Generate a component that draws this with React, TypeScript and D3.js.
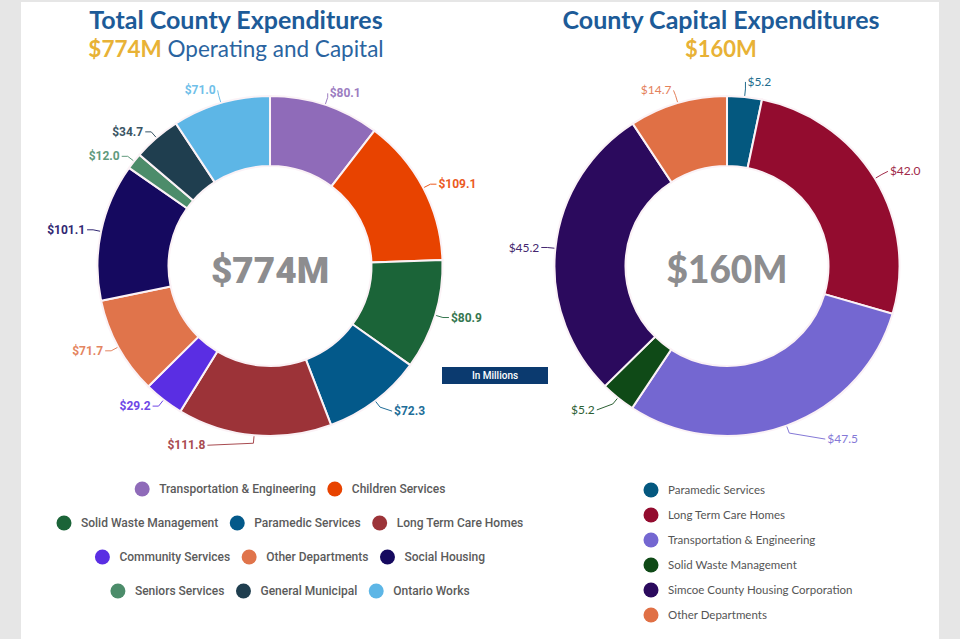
import React from "react";
import * as d3 from "d3";

// ---------- Data ----------
const totalCategories = [
  "Transportation & Engineering",
  "Children Services",
  "Solid Waste Management",
  "Paramedic Services",
  "Long Term Care Homes",
  "Community Services",
  "Other Departments",
  "Social Housing",
  "Seniors Services",
  "General Municipal",
  "Ontario Works",
];
const totalValues = [80.1, 109.1, 80.9, 72.3, 111.8, 29.2, 71.7, 101.1, 12.0, 34.7, 71.0];
const totalColors = [
  "#8f6bb9", "#e84300", "#1b6438", "#03598a", "#9c3338", "#5a2ee3",
  "#e0744b", "#15095f", "#4c8c6a", "#1f3e4f", "#5db6e6",
];
const totalLegendRows = [[0, 1], [2, 3, 4], [5, 6, 7], [8, 9, 10]];

const capitalCategories = [
  "Paramedic Services",
  "Long Term Care Homes",
  "Transportation & Engineering",
  "Solid Waste Management",
  "Simcoe County Housing Corporation",
  "Other Departments",
];
const capitalValues = [5.2, 42.0, 47.5, 5.2, 45.2, 14.7];
const capitalColors = ["#04587f", "#930c2f", "#7467d1", "#0f4a17", "#2b0a5d", "#e07045"];

// label nudges (layout only)
const totalNudges: [number, number][] = [
  [-6, -4], [0, 0], [0, 0], [6, 4], [-40, 2], [0, 0], [0, 0], [0, 0], [0, 0], [0, 0], [5, -5],
];
const capitalNudges: [number, number][] = [
  [-6, -7], [0, -3], [30, 6], [-10, 6], [0, 0], [4, -5],
];

// ---------- Helpers ----------
let ctx: CanvasRenderingContext2D | null = null;
function measure(text: string, font: string) {
  if (!ctx) ctx = document.createElement("canvas").getContext("2d");
  if (!ctx) return text.length * 6;
  ctx.font = font;
  return ctx.measureText(text).width;
}

type DonutProps = {
  cx: number;
  cy: number;
  values: number[];
  colors: string[];
  nudges: [number, number][];
  labelFont: string;
  labelWeight: number;
  centerFont: string;
};

function Donut({ cx, cy, values, colors, nudges, labelFont, labelWeight, centerFont }: DonutProps) {
  const inner = 100;
  const outer = 170;
  const pie = d3.pie<number>().sort(null).value((d) => d);
  const arcs = pie(values);
  const arc = d3.arc<d3.PieArcDatum<number>>().innerRadius(inner).outerRadius(outer);
  const total = d3.sum(values);
  return (
    <g transform={`translate(${cx},${cy})`}>
      <g transform="scale(1.015,1)">
        {arcs.map((a, i) => (
          <path key={i} d={arc(a) || ""} fill={colors[i]} stroke="#fbf2f6" strokeWidth={2} />
        ))}
      </g>
      {arcs.map((a, i) => {
        const mid = (a.startAngle + a.endAngle) / 2;
        const right = Math.sin(mid) >= 0;
        const pt = (r: number) => [1.015 * r * Math.sin(mid), -r * Math.cos(mid)];
        const p0 = pt(outer + 1);
        const p1 = pt(outer + 8);
        const [dx, dy] = nudges[i];
        const p2 = [p1[0] + dx + (right ? 6 : -6), p1[1] + dy];
        const lc = d3.interpolateRgb(colors[i], "#ffffff")(0.12);
        const line = d3.line()([p0 as [number, number], p1 as [number, number], p2 as [number, number]]);
        return (
          <g key={"l" + i}>
            <path d={line || ""} fill="none" stroke={lc} strokeWidth={1} />
            <text
              x={p2[0] + (right ? 2 : -2)}
              y={p2[1] + 4}
              textAnchor={right ? "start" : "end"}
              fontFamily={labelFont}
              fontWeight={labelWeight}
              fontSize={12}
              fill={lc}
            >
              {`$${values[i].toFixed(1)}`}
            </text>
          </g>
        );
      })}
      <text
        x={0}
        y={17}
        textAnchor="middle"
        fontFamily={centerFont}
        fontWeight={900}
        fontSize={37}
        fill="#8d8d8f"
      >
        {`$${Math.round(total)}M`}
      </text>
    </g>
  );
}

export default function App() {
  const legendFont = "500 12px Roboto";
  const legendRowY = [489, 523, 557, 591];
  const legendCenter = 290;
  const textOff = 24.5;
  const gap = 11.5;
  return (
    <svg
      width={960}
      height={639}
      style={{ position: "absolute", left: 0, top: 0, display: "block" }}
    >
      <rect x={0} y={0} width={960} height={639} fill="#e6e6e6" />
      <rect x={21} y={2} width={918} height={637} fill="#ffffff" />

      {/* Titles */}
      <text x={236} y={29} textAnchor="middle" fontFamily="Lato" fontWeight={700} fontSize={25} fill="#1d5b98">
        Total County Expenditures
      </text>
      <text x={236} y={57} textAnchor="middle" fontFamily="Lato" fontSize={22.5} fill="#2a64a0">
        <tspan fontWeight={700} fill="#e8b236">$774M</tspan>
        <tspan> Operating and Capital</tspan>
      </text>
      <text x={721} y={29} textAnchor="middle" fontFamily="Lato" fontWeight={700} fontSize={25} fill="#1d5b98">
        County Capital Expenditures
      </text>
      <text x={721} y={57} textAnchor="middle" fontFamily="Lato" fontWeight={700} fontSize={22} fill="#e8b236">
        $160M
      </text>

      <Donut
        cx={270}
        cy={266}
        values={totalValues}
        colors={totalColors}
        nudges={totalNudges}
        labelFont="Roboto"
        labelWeight={700}
        centerFont="Roboto"
      />
      <Donut
        cx={727}
        cy={266}
        values={capitalValues}
        colors={capitalColors}
        nudges={capitalNudges}
        labelFont="Lato"
        labelWeight={400}
        centerFont="Lato"
      />

      {/* In Millions badge */}
      <rect x={442} y={367} width={106} height={17} fill="#0b3a6f" />
      <text x={495} y={379} textAnchor="middle" fontFamily="Roboto" fontWeight={500} fontSize={10} fill="#ffffff">
        In Millions
      </text>

      {/* Left legend */}
      {totalLegendRows.map((row, ri) => {
        const widths = row.map((i) => textOff + measure(totalCategories[i], legendFont));
        const totalW = d3.sum(widths) + gap * (row.length - 1);
        let x = legendCenter - totalW / 2;
        return (
          <g key={"r" + ri}>
            {row.map((i, k) => {
              const x0 = x;
              x += widths[k] + gap;
              return (
                <g key={i}>
                  <circle cx={x0 + 7.5} cy={legendRowY[ri]} r={7.5} fill={totalColors[i]} />
                  <text
                    x={x0 + textOff}
                    y={legendRowY[ri] + 4}
                    fontFamily="Roboto"
                    fontWeight={500}
                    fontSize={12}
                    fill="#5b5b5b"
                  >
                    {totalCategories[i]}
                  </text>
                </g>
              );
            })}
          </g>
        );
      })}

      {/* Right legend */}
      {capitalCategories.map((c, i) => (
        <g key={"c" + i}>
          <circle cx={651} cy={490 + i * 25} r={7.5} fill={capitalColors[i]} />
          <text x={668} y={490 + i * 25 + 4} fontFamily="Lato" fontSize={11.5} fill="#555555">
            {c}
          </text>
        </g>
      ))}
    </svg>
  );
}
